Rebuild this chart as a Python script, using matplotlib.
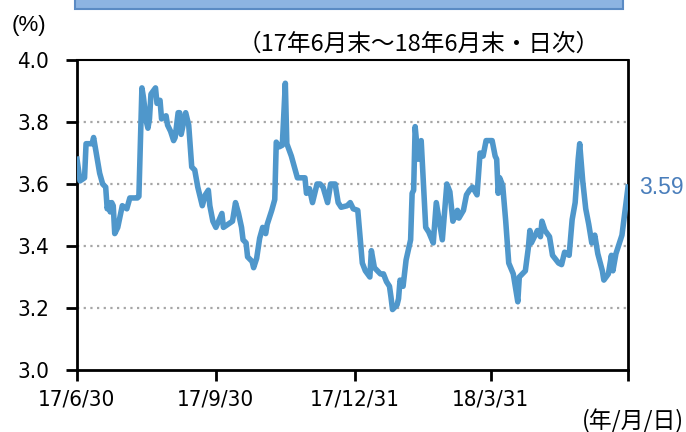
import numpy as np
import matplotlib
matplotlib.use('Agg')
import matplotlib.pyplot as plt
from matplotlib.patches import Rectangle

# days after 2017-06-30 and yield (%)
days = [0, 2, 5, 6, 10, 11, 15, 17, 19, 20, 21, 22, 23, 24, 25, 27, 30, 33, 35, 40,
        41, 42, 43, 44, 46, 47, 48, 49, 52, 53, 55, 56, 59, 60, 62, 64, 65, 67, 68, 69,
        72, 74, 76, 78, 80, 83, 85, 87, 88, 90, 92, 96, 97, 100, 103, 105, 107, 109, 110, 112,
        113, 116, 117, 119, 121, 123, 125, 126, 129, 131, 132, 134, 136, 138, 139, 142, 144, 146, 148, 151,
        152, 154, 156, 159, 161, 163, 166, 168, 171, 173, 175, 179, 181, 183, 186, 189, 191, 194, 195, 197,
        201, 203, 205, 207, 208, 209, 212, 213, 214, 216, 218, 221, 222, 223, 224, 226, 228, 231, 233, 236,
        238, 242, 245, 247, 249, 252, 253, 256, 258, 260, 262, 265, 267, 269, 271, 275, 277, 278, 279, 280,
        282, 284, 286, 289, 291, 292, 293, 297, 299, 300, 301, 303, 305, 307, 308, 310, 313, 315, 319, 321,
        323, 326, 328, 330, 332, 333, 335, 337, 339, 341, 343, 345, 348, 349, 352, 354, 355, 357, 361, 365]
vals = [3.68, 3.61, 3.62, 3.73, 3.73, 3.75, 3.635, 3.60, 3.59, 3.52, 3.54, 3.51, 3.54, 3.53, 3.44, 3.46, 3.53, 3.52, 3.555, 3.555,
        3.56, 3.74, 3.91, 3.88, 3.80, 3.78, 3.81, 3.89, 3.91, 3.86, 3.87, 3.81, 3.82, 3.79, 3.77, 3.74, 3.75, 3.83, 3.83, 3.76,
        3.83, 3.79, 3.655, 3.645, 3.59, 3.53, 3.565, 3.58, 3.53, 3.48, 3.46, 3.505, 3.46, 3.47, 3.48, 3.54, 3.505, 3.46, 3.42, 3.41,
        3.365, 3.35, 3.33, 3.36, 3.425, 3.46, 3.44, 3.47, 3.515, 3.55, 3.735, 3.72, 3.725, 3.925, 3.73, 3.69, 3.655, 3.62, 3.62, 3.62,
        3.57, 3.585, 3.54, 3.60, 3.60, 3.59, 3.54, 3.60, 3.60, 3.54, 3.525, 3.53, 3.54, 3.52, 3.515, 3.345, 3.32, 3.30, 3.385, 3.33,
        3.31, 3.31, 3.285, 3.27, 3.235, 3.195, 3.21, 3.23, 3.29, 3.27, 3.355, 3.42, 3.57, 3.58, 3.785, 3.68, 3.74, 3.46, 3.445, 3.41,
        3.54, 3.42, 3.60, 3.575, 3.48, 3.515, 3.49, 3.515, 3.565, 3.58, 3.59, 3.565, 3.70, 3.69, 3.74, 3.74, 3.69, 3.68, 3.57, 3.62,
        3.595, 3.48, 3.345, 3.31, 3.25, 3.22, 3.30, 3.32, 3.395, 3.45, 3.41, 3.43, 3.45, 3.43, 3.48, 3.45, 3.43, 3.37, 3.345, 3.34,
        3.38, 3.37, 3.485, 3.54, 3.68, 3.73, 3.61, 3.52, 3.47, 3.41, 3.435, 3.375, 3.32, 3.29, 3.31, 3.37, 3.32, 3.375, 3.435, 3.59]

tick_dates = ['2017-06-30', '2017-09-30', '2017-12-31', '2018-03-31', '2018-06-30']
tick_labels = ['17/6/30', '17/9/30', '17/12/31', '18/3/31', '']

start = np.datetime64('2017-06-30')
dates = start + np.array(days).astype('timedelta64[D]')

narrow = ['Liberation Sans Narrow', 'DejaVu Sans']
jp = ['Noto Sans CJK JP', 'DejaVu Sans']
arial = ['Liberation Sans', 'DejaVu Sans']

fig = plt.figure(figsize=(6.86, 4.32), dpi=100)
ax = fig.add_axes([77/686, 62/432, 551/686, 310/432])

ax.plot(dates, vals, color='#4F97CB', lw=4, solid_joinstyle='round', zorder=3)

ax.set_ylim(3.0, 4.0)
ax.set_yticks(np.arange(3.0, 4.01, 0.2))
ax.set_yticklabels(['%.1f' % v for v in np.arange(3.0, 4.01, 0.2)], family=narrow,
                   fontstretch='condensed', fontsize=16)
ax.set_xlim(np.datetime64(tick_dates[0]), np.datetime64(tick_dates[-1]))
ax.set_xticks([np.datetime64(d) for d in tick_dates])
ax.set_xticklabels(tick_labels, family=narrow, fontstretch='condensed', fontsize=16)
for v in [3.2, 3.4, 3.6, 3.8]:
    ax.axhline(v, color='#A6A6A6', lw=1.6, ls=(0, (1, 2)), zorder=1)

ax.tick_params(direction='out', length=8, width=2, color='black')
ax.tick_params(axis='y', pad=12)
ax.tick_params(axis='x', pad=6)
for s in ax.spines.values():
    s.set_linewidth(2)
ax.spines['top'].set_linewidth(1.5)

ax.text(1.02, vals[-1], '%.2f' % vals[-1], transform=ax.get_yaxis_transform(),
        color='#4A7EBB', fontsize=16.5, family=arial, va='center', ha='left')

fig.text(12/686, 1 - 25/432, '(%)', fontsize=16, family=arial, va='center', ha='left')
fig.text(600/686, 1 - 44/432, '（17年6月末～18年6月末・日次）', fontsize=17, family=jp, va='center', ha='right')
fig.text(684/686, 1 - 421/432, '(年/月/日)', fontsize=16.5, family=jp, va='center', ha='right')

fig.patches.append(Rectangle((75/686, 1 - 9/432), 548/686, 12/432, transform=fig.transFigure,
                             facecolor='#8DB4E2', edgecolor='#5B8BC4', lw=1.5))

fig.savefig('out.png', dpi=100)
